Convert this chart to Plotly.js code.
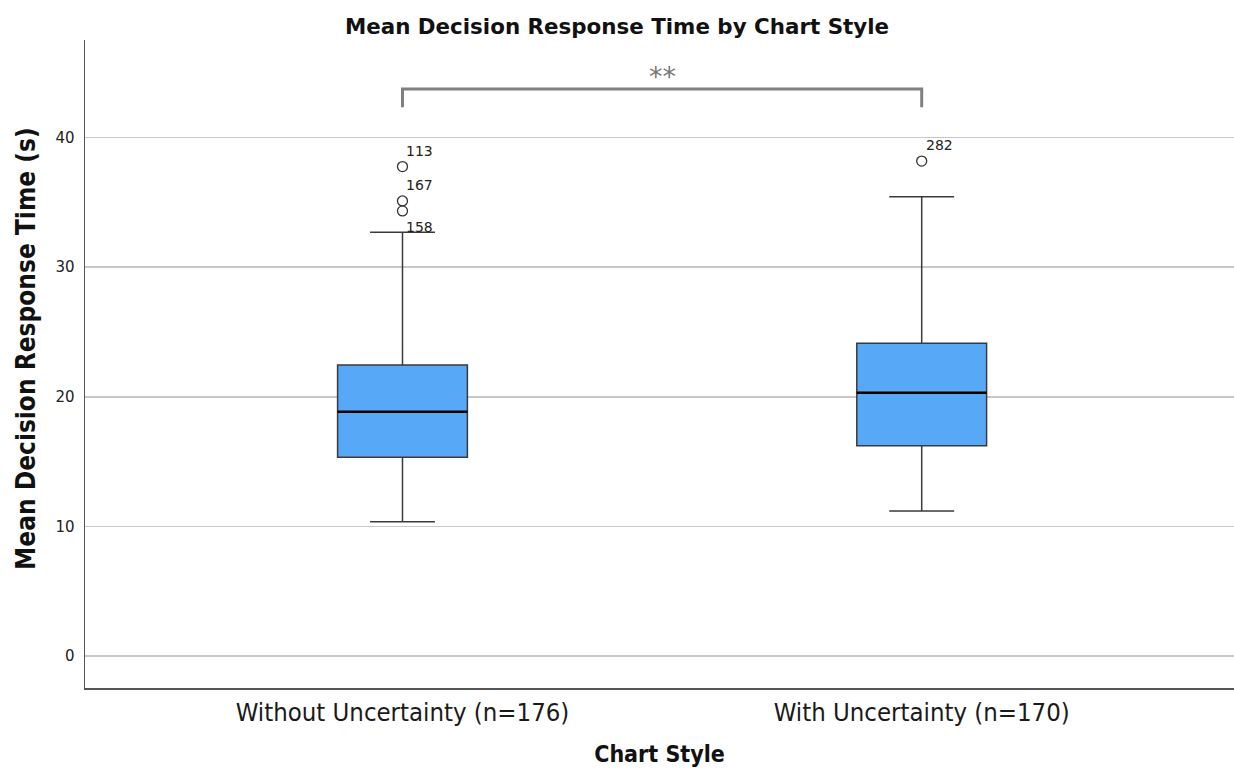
<!DOCTYPE html>
<html>
<head>
<meta charset="utf-8">
<script src="https://cdn.plot.ly/plotly-3.0.1.min.js"></script>
<style>html,body{margin:0;padding:0;background:#fff;}#chart{width:1234px;height:768px;}</style>
</head>
<body>
<div id="chart"></div>
<script>
// ---- data ----
const categories = ["Without Uncertainty (n=176)", "With Uncertainty (n=170)"];
const lowerWhisker = [10.36, 11.19];
const q1Values = [15.33, 16.23];
const medianValues = [18.85, 20.32];
const q3Values = [22.45, 24.13];
const upperWhisker = [32.69, 35.44];

const outlierGroup = [0, 0, 0, 1];
const outlierValues = [37.76, 35.11, 34.34, 38.19];
const outlierIds = ["113", "167", "158", "282"];

const sigPair = [0, 1];
const sigLabel = "**";
const bracketTop = 43.75;
const bracketFoot = 42.35;
const sigLabelY = 44.7;

const yTickValues = [0, 10, 20, 30, 40];
const yTickLabels = ["0", "10", "20", "30", "40"];

// ---- styling ----
const boxWidth = 0.25;
const labelYShift = [16, 16, -16, 16];   // label placement (above / below its point)
const condensed = "DejaVu Sans Condensed, Liberation Sans Narrow, DejaVu Sans, sans-serif";
const plain = "DejaVu Sans, Verdana, sans-serif";

const idx = categories.map((c, i) => i);

const traces = idx.map(i => ({
  type: "box",
  x: [i],
  q1: [q1Values[i]],
  median: [medianValues[i]],
  q3: [q3Values[i]],
  lowerfence: [lowerWhisker[i]],
  upperfence: [upperWhisker[i]],
  width: boxWidth,
  whiskerwidth: 0.5,
  fillcolor: "#57a9f8",
  line: { color: "#3a3a3a", width: 1.5 },
  boxpoints: false,
  hoverinfo: "skip",
  showlegend: false
}));

traces.push({
  type: "scatter",
  mode: "markers",
  x: outlierGroup,
  y: outlierValues,
  marker: { symbol: "circle-open", size: 10, color: "#333", line: { width: 1.3, color: "#333" } },
  hoverinfo: "skip",
  showlegend: false
});

const shapes = [];
idx.forEach(i => {
  shapes.push({
    type: "line", xref: "x", yref: "y",
    x0: i - boxWidth / 2, x1: i + boxWidth / 2,
    y0: medianValues[i], y1: medianValues[i],
    line: { color: "#000", width: 2.5 }
  });
});
// significance bracket
shapes.push({
  type: "path", xref: "x", yref: "y",
  path: `M ${sigPair[0]},${bracketFoot} L ${sigPair[0]},${bracketTop} L ${sigPair[1]},${bracketTop} L ${sigPair[1]},${bracketFoot}`,
  line: { color: "#808080", width: 3 }
});

const annotations = outlierValues.map((v, k) => ({
  x: outlierGroup[k], y: v, xref: "x", yref: "y",
  text: outlierIds[k], showarrow: false,
  xanchor: "left", yanchor: "middle", xshift: 2, yshift: labelYShift[k],
  font: { family: plain, size: 14, color: "#222" }
}));
annotations.push({
  x: (sigPair[0] + sigPair[1]) / 2, y: sigLabelY, xref: "x", yref: "y",
  text: sigLabel, showarrow: false, xanchor: "center", yanchor: "middle",
  font: { family: plain, size: 27, color: "#777" }
});
// y-axis title (placed slightly above the plot-area centre, as in the reference)
annotations.push({
  x: 0, y: 0.5, xref: "paper", yref: "paper",
  xanchor: "center", yanchor: "middle", xshift: -59, yshift: 15,
  textangle: -90, showarrow: false,
  text: "Mean Decision Response Time (s)",
  font: { family: condensed, size: 26, weight: "bold", color: "#111" }
});

const layout = {
  width: 1234, height: 768,
  paper_bgcolor: "#fff", plot_bgcolor: "#fff",
  margin: { l: 85, r: 0, t: 40, b: 80 },
  title: {
    text: "Mean Decision Response Time by Chart Style",
    x: 0.5, xref: "container", xanchor: "center",
    y: 1 - 27 / 768, yref: "container", yanchor: "middle",
    font: { family: plain, size: 21.4, weight: "bold", color: "#111" }
  },
  xaxis: {
    range: [-0.6115, 1.6015],
    tickvals: idx, ticktext: categories,
    showgrid: false, zeroline: false,
    showline: true, linecolor: "#555", linewidth: 1.5,
    ticks: "", ticklabelstandoff: 1,
    tickfont: { family: condensed, size: 25.5, color: "#1a1a1a" },
    title: { text: "Chart Style", standoff: 20, font: { family: condensed, size: 23, weight: "bold", color: "#111" } },
    fixedrange: true
  },
  yaxis: {
    range: [-2.47, 47.53],
    tickvals: yTickValues, ticktext: yTickLabels,
    showgrid: true, gridcolor: "#c8c8c8", gridwidth: 1.6,
    zeroline: false,
    showline: true, linecolor: "#555", linewidth: 1.5,
    ticks: "", ticklabelstandoff: 6,
    tickfont: { family: plain, size: 15, color: "#222" },
    fixedrange: true
  },
  shapes: shapes,
  annotations: annotations,
  showlegend: false
};

Plotly.newPlot("chart", traces, layout, { displayModeBar: false, staticPlot: true });
</script>
</body>
</html>
